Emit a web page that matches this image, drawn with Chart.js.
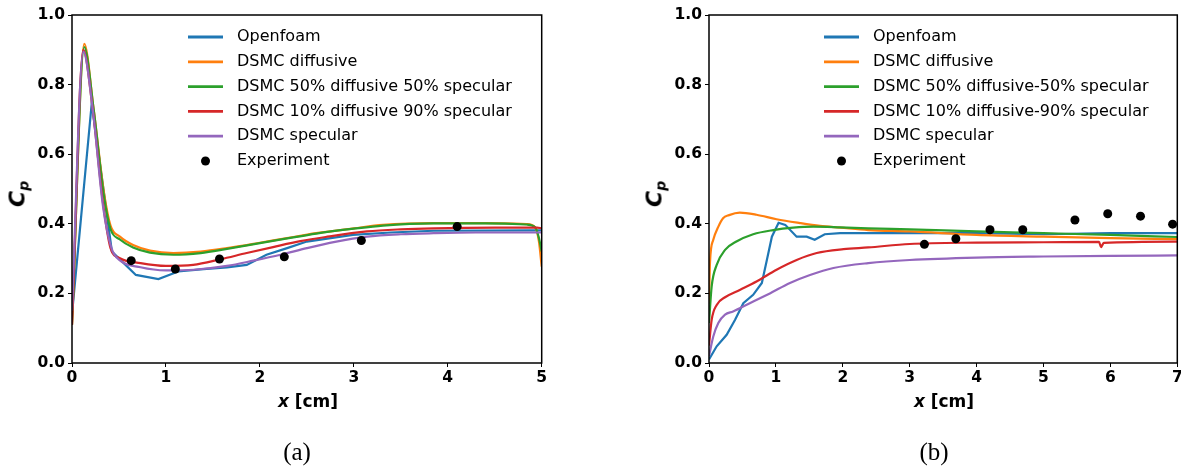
<!DOCTYPE html>
<html>
<head>
<meta charset="utf-8">
<script src="https://cdn.jsdelivr.net/npm/chart.js@4.4.0/dist/chart.umd.min.js"></script>
<style>
  html, body { margin: 0; padding: 0; background: #fff; }
  #page { position: relative; width: 1181px; height: 474px; overflow: hidden; font-family: "DejaVu Sans", sans-serif; color: #000; }
  canvas { position: absolute; top: 0; }
  #chartA { left: 0; }
  #chartB { left: 640px; }
  .lbl { position: absolute; transform: translate(-50%, -50%); white-space: nowrap; }
  .xlab { font-size: 17px; font-weight: bold; }
  .ylab { font-size: 22px; font-weight: bold; transform: translate(-50%, -50%) rotate(-90deg); }
  .ylab sub { font-size: 14px; vertical-align: -4px; }
  .cap { font-family: "Liberation Serif", "DejaVu Serif", serif; font-size: 25px; }
</style>
</head>
<body>
<div id="page">
  <canvas id="chartA" width="590" height="400"></canvas>
  <canvas id="chartB" width="560" height="400"></canvas>
  <div class="lbl ylab" style="left:18px; top:194px;"><i>C</i><sub><i>p</i></sub></div>
  <div class="lbl ylab" style="left:655px; top:194px;"><i>C</i><sub><i>p</i></sub></div>
  <div class="lbl xlab" style="left:308px; top:401px;"><i>x</i> [cm]</div>
  <div class="lbl xlab" style="left:944px; top:401px;"><i>x</i> [cm]</div>
  <div class="lbl cap" style="left:297px; top:452px;">(a)</div>
  <div class="lbl cap" style="left:934px; top:452px;">(b)</div>
</div>
<script>
// shared y axis
const yTicks = [0, 0.2, 0.4, 0.6, 0.8, 1.0];
const yTickLabels = ['0.0', '0.2', '0.4', '0.6', '0.8', '1.0'];

// (a) 0 - 5 cm
const xTicksA = [0, 1, 2, 3, 4, 5];
const openfoamAX = [0, 0.21, 0.425, 0.68, 0.92, 1.13, 1.4, 1.65, 1.86, 2.07, 2.29, 2.5, 2.99, 3.39, 3.85, 4.88, 5];
const openfoamAY = [0.14, 0.746, 0.32, 0.253, 0.241, 0.263, 0.27, 0.275, 0.282, 0.311, 0.33, 0.349, 0.368, 0.375, 0.38, 0.381, 0.381];
const diffusiveAX = [0, 0.13, 0.23, 0.34, 0.41, 0.51, 0.65, 0.83, 1.08, 1.37, 1.65, 1.97, 2.29, 2.6, 3.0, 3.31, 3.85, 4.4, 4.84, 4.93, 4.97, 5.0];
const diffusiveAY = [0.11, 0.917, 0.73, 0.49, 0.395, 0.363, 0.339, 0.323, 0.316, 0.32, 0.33, 0.344, 0.359, 0.373, 0.387, 0.397, 0.402, 0.402, 0.399, 0.39, 0.35, 0.277];
const mix50AX = [0, 0.13, 0.23, 0.34, 0.41, 0.51, 0.65, 0.83, 1.08, 1.37, 1.65, 1.97, 2.29, 2.6, 3.0, 3.31, 3.85, 4.4, 4.84, 4.93, 4.97, 5.0];
const mix50AY = [0.11, 0.908, 0.73, 0.48, 0.385, 0.355, 0.332, 0.317, 0.311, 0.316, 0.328, 0.343, 0.358, 0.372, 0.386, 0.395, 0.401, 0.401, 0.398, 0.39, 0.36, 0.32];
const mix10AX = [0, 0.12, 0.22, 0.33, 0.41, 0.51, 0.73, 1.0, 1.29, 1.58, 1.86, 2.14, 2.43, 2.7, 3.14, 3.5, 3.85, 4.5, 4.95, 5.0];
const mix10AY = [0.11, 0.90, 0.73, 0.46, 0.33, 0.301, 0.287, 0.279, 0.282, 0.298, 0.316, 0.333, 0.35, 0.362, 0.378, 0.384, 0.387, 0.389, 0.389, 0.387];
const specularAX = [0, 0.12, 0.22, 0.33, 0.42, 0.51, 0.73, 1.0, 1.3, 1.65, 1.93, 2.22, 2.5, 2.8, 3.14, 3.5, 3.85, 4.3, 4.9, 5.0];
const specularAY = [0.15, 0.895, 0.73, 0.45, 0.33, 0.295, 0.275, 0.266, 0.268, 0.279, 0.294, 0.311, 0.33, 0.348, 0.363, 0.37, 0.373, 0.375, 0.375, 0.375];
const experimentAX = [0.63, 1.10, 1.57, 2.26, 3.08, 4.10];
const experimentAY = [0.294, 0.27, 0.299, 0.305, 0.352, 0.392];

// (b) 0 - 7 cm
const xTicksB = [0, 1, 2, 3, 4, 5, 6, 7];
const openfoamBX = [0, 0.115, 0.264, 0.39, 0.513, 0.66, 0.79, 0.865, 0.94, 1.04, 1.14, 1.31, 1.46, 1.58, 1.73, 1.96, 3, 4, 5, 6, 7];
const openfoamBY = [0.01, 0.048, 0.081, 0.124, 0.172, 0.196, 0.23, 0.296, 0.363, 0.403, 0.397, 0.363, 0.363, 0.354, 0.37, 0.373, 0.373, 0.373, 0.37, 0.373, 0.373];
const diffusiveBX = [0, 0.015, 0.064, 0.14, 0.21, 0.3, 0.46, 0.71, 1.01, 1.36, 1.66, 1.96, 2.38, 3, 4, 5, 6, 7];
const diffusiveBY = [0.17, 0.29, 0.354, 0.392, 0.416, 0.425, 0.432, 0.426, 0.413, 0.402, 0.394, 0.389, 0.382, 0.378, 0.368, 0.363, 0.359, 0.356];
const mix50BX = [0, 0.04, 0.115, 0.24, 0.41, 0.66, 0.96, 1.26, 1.56, 1.96, 2.38, 3, 4, 5, 6, 7];
const mix50BY = [0.115, 0.22, 0.282, 0.325, 0.349, 0.37, 0.382, 0.389, 0.392, 0.39, 0.387, 0.384, 0.378, 0.373, 0.368, 0.362];
const mix10BX = [0, 0.04, 0.115, 0.24, 0.46, 0.71, 1.01, 1.31, 1.61, 2.01, 2.38, 3, 4, 5, 5.83, 5.86, 5.9, 7];
const mix10BY = [0.05, 0.124, 0.167, 0.189, 0.21, 0.234, 0.268, 0.296, 0.316, 0.327, 0.332, 0.342, 0.346, 0.347, 0.348, 0.333, 0.345, 0.349];
const specularBX = [0, 0.064, 0.139, 0.24, 0.36, 0.61, 0.91, 1.21, 1.51, 1.86, 2.38, 3, 4, 5, 6, 7];
const specularBY = [0.02, 0.076, 0.115, 0.139, 0.148, 0.172, 0.2, 0.23, 0.253, 0.273, 0.287, 0.296, 0.303, 0.306, 0.308, 0.309];
const experimentBX = [3.22, 3.69, 4.2, 4.69, 5.47, 5.96, 6.45, 6.93];
const experimentBY = [0.341, 0.357, 0.383, 0.383, 0.411, 0.429, 0.422, 0.399];

const colors = ['#1f77b4', '#ff7f0e', '#2ca02c', '#d62728', '#9467bd'];

function pts(xs, ys) {
    return xs.map((x, i) => ({ x: x, y: ys[i] }));
}

function lineSet(label, xs, ys, color, smooth, order) {
    return {
        label: label,
        data: pts(xs, ys),
        borderColor: color,
        backgroundColor: color,
        borderWidth: 2.2,
        pointRadius: 0,
        fill: false,
        tension: 0,
        cubicInterpolationMode: smooth ? 'monotone' : 'default',
        order: order
    };
}

function dotSet(label, xs, ys) {
    return {
        label: label,
        data: pts(xs, ys),
        showLine: false,
        pointRadius: 4.5,
        pointBackgroundColor: '#000',
        pointBorderWidth: 0,
        borderColor: '#000',
        order: 0
    };
}

// legend without frame, placed inside the axes like matplotlib's
const cpLegend = {
    id: 'cpLegend',
    afterDraw(chart, args, opts) {
        const ctx = chart.ctx;
        ctx.save();
        ctx.font = '16px "DejaVu Sans"';
        ctx.textBaseline = 'middle';
        chart.data.datasets.forEach((ds, i) => {
            const y = opts.top + i * opts.rowGap;
            if (ds.showLine === false) {
                ctx.fillStyle = '#000';
                ctx.beginPath();
                ctx.arc(opts.left + 17.5, y, 4.5, 0, Math.PI * 2);
                ctx.fill();
            } else {
                ctx.strokeStyle = ds.borderColor;
                ctx.lineWidth = 2.8;
                ctx.beginPath();
                ctx.moveTo(opts.left, y);
                ctx.lineTo(opts.left + 35, y);
                ctx.stroke();
            }
            ctx.fillStyle = '#000';
            ctx.fillText(ds.label, opts.left + 49, y);
        });
        ctx.restore();
    }
};

// full box around the plot area
const frame = {
    id: 'frame',
    afterDatasetsDraw(chart) {
        const a = chart.chartArea;
        const ctx = chart.ctx;
        ctx.save();
        ctx.strokeStyle = '#000';
        ctx.lineWidth = 1.5;
        ctx.strokeRect(a.left, a.top, a.right - a.left, a.bottom - a.top);
        ctx.restore();
    }
};

function makeChart(id, opt) {
    const tickFont = { family: 'DejaVu Sans', size: 15.5, weight: 'bold' };
    return new Chart(document.getElementById(id), {
        type: 'line',
        data: { datasets: opt.datasets },
        plugins: [cpLegend, frame],
        options: {
            responsive: false,
            animation: false,
            events: [],
            layout: { padding: { left: 0, top: 15, right: opt.padRight, bottom: 0 } },
            plugins: {
                legend: { display: false },
                tooltip: { enabled: false },
                cpLegend: { left: opt.legendLeft, top: 37, rowGap: 24.8 }
            },
            scales: {
                x: {
                    type: 'linear',
                    min: 0,
                    max: opt.xTicks[opt.xTicks.length - 1],
                    afterBuildTicks: s => { s.ticks = opt.xTicks.map(v => ({ value: v })); },
                    afterFit: s => { s.height = 37; s.paddingLeft = 0; s.paddingRight = 0; },
                    ticks: { font: tickFont, color: '#000', padding: 2, maxRotation: 0, autoSkip: false },
                    grid: { drawOnChartArea: false, drawTicks: true, tickLength: 4, tickColor: '#000', lineWidth: 1 },
                    border: { display: false }
                },
                y: {
                    min: 0,
                    max: 1,
                    afterBuildTicks: s => { s.ticks = yTicks.map(v => ({ value: v })); },
                    afterFit: s => { s.width = opt.yWidth; s.paddingTop = 0; s.paddingBottom = 0; },
                    ticks: {
                        font: tickFont,
                        color: '#000',
                        padding: 3,
                        autoSkip: false,
                        callback: (v, i) => yTickLabels[i]
                    },
                    grid: { drawOnChartArea: false, drawTicks: true, tickLength: 4, tickColor: '#000', lineWidth: 1 },
                    border: { display: false }
                }
            }
        }
    });
}

makeChart('chartA', {
    xTicks: xTicksA,
    yWidth: 72,
    padRight: 48.3,
    legendLeft: 188,
    datasets: [
        lineSet('Openfoam', openfoamAX, openfoamAY, colors[0], false, 5),
        lineSet('DSMC diffusive', diffusiveAX, diffusiveAY, colors[1], true, 4),
        lineSet('DSMC 50% diffusive 50% specular', mix50AX, mix50AY, colors[2], true, 3),
        lineSet('DSMC 10% diffusive 90% specular', mix10AX, mix10AY, colors[3], true, 2),
        lineSet('DSMC specular', specularAX, specularAY, colors[4], true, 1),
        dotSet('Experiment', experimentAX, experimentAY)
    ]
});

makeChart('chartB', {
    xTicks: xTicksB,
    yWidth: 69,
    padRight: 22.7,
    legendLeft: 184,
    datasets: [
        lineSet('Openfoam', openfoamBX, openfoamBY, colors[0], false, 5),
        lineSet('DSMC diffusive', diffusiveBX, diffusiveBY, colors[1], true, 4),
        lineSet('DSMC 50% diffusive-50% specular', mix50BX, mix50BY, colors[2], true, 3),
        lineSet('DSMC 10% diffusive-90% specular', mix10BX, mix10BY, colors[3], true, 2),
        lineSet('DSMC specular', specularBX, specularBY, colors[4], true, 1),
        dotSet('Experiment', experimentBX, experimentBY)
    ]
});
</script>
</body>
</html>
